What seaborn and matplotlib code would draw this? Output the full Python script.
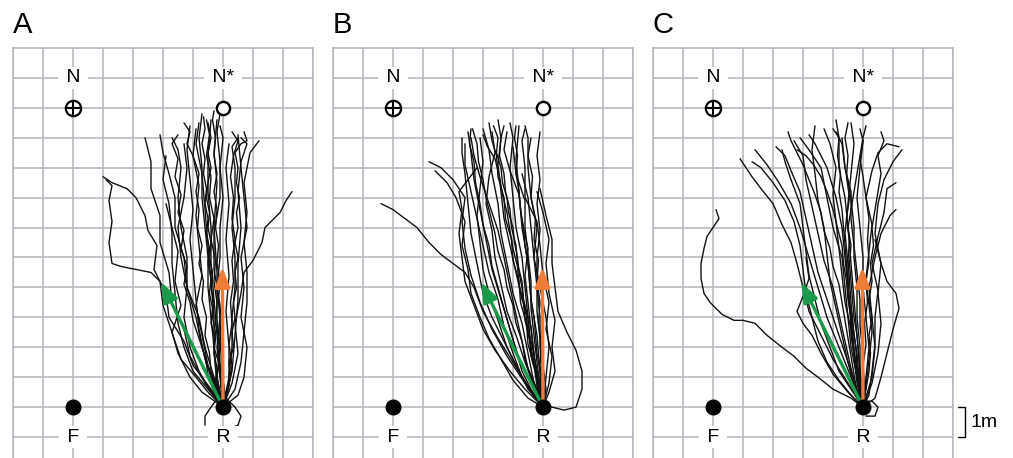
import matplotlib
matplotlib.use("Agg")
import matplotlib.pyplot as plt
import seaborn as sns
import pandas as pd

# ---------------- data (grid units, 1 cell = 1 m) ----------------
panel_labels = ["A", "B", "C"]

label_text = ["N", "N*", "F", "R"]
label_x = [2, 7, 2, 7]
label_y = [11, 11, -1, -1]

nest_xy = (2, 10)          # N (crossed circle)
fictive_nest_xy = (7, 10)  # N* (open circle)
feeder_xy = (2, 0)         # F
release_xy = (7, 0)        # R

green_tip = (4.94, 4.18)
orange_tip = (6.98, 4.68)

A_tracks = [
    [(7,0),(6.6,0.6),(6.0,1.4),(5.7,2.2),(5.2,3.0),(5.1,3.8),(4.7,4.6),(4.8,5.4),(4.5,5.9),(4.4,6.4),(4.1,7.0),(3.8,7.3),(3.3,7.5),(3.0,7.7)],
    [(7,0),(6.5,0.5),(6.1,1.0),(5.6,1.6),(5.3,2.5),(5.0,3.4),(4.9,4.2),(4.6,4.5),(4.1,4.6),(3.6,4.7),(3.3,4.8),(3.2,5.5),(3.3,6.2),(3.2,6.9),(3.3,7.4),(3.1,7.6)],
    [(7,0),(7.3,0.8),(7.5,1.8),(7.4,2.8),(7.6,3.8),(7.7,4.5),(8.0,4.9),(8.3,5.5),(8.4,6.0),(8.9,6.5),(9.1,6.9),(9.3,7.2)],
    [(7,0),(6.4,0.8),(5.9,1.7),(5.7,2.6),(5.3,3.5),(5.2,4.5),(4.9,5.5),(4.9,6.4),(4.6,7.3),(4.6,8.2),(4.4,9.0)],
    [(7,0),(6.7,1.0),(6.4,2.0),(6.2,3.0),(5.8,4.0),(5.7,5.0),(5.4,6.0),(5.4,7.0),(5.2,7.8),(5.0,8.5),(4.9,9.1)],
    [(7,0),(6.8,1.0),(6.7,2.0),(6.6,3.0),(6.5,4.0),(6.5,5.0),(6.4,6.0),(6.3,7.0),(6.3,8.0),(6.2,9.0),(6.3,9.8)],
    [(7,0),(6.9,1.2),(6.8,2.4),(6.7,3.6),(6.6,4.8),(6.6,6.0),(6.5,7.2),(6.5,8.4),(6.6,9.6)],
    [(7,0),(6.8,0.8),(6.7,1.8),(6.7,3.0),(6.6,4.2),(6.5,5.4),(6.4,6.6),(6.3,7.8),(6.1,8.8),(6.2,9.5)],
    [(7,0),(6.9,1.5),(6.8,3.0),(6.8,4.5),(6.7,6.0),(6.8,7.5),(6.7,8.5),(6.8,9.6)],
    [(7,0),(7.2,1.0),(7.3,2.0),(7.3,3.0),(7.4,4.0),(7.4,5.0),(7.3,6.0),(7.4,7.0),(7.4,8.0),(7.3,8.7),(7.5,9.0)],
    [(7,0),(7.3,1.2),(7.4,2.4),(7.5,3.6),(7.5,4.8),(7.6,6.0),(7.5,7.2),(7.6,8.2),(7.8,8.8),(7.6,9.0)],
    [(7,0),(7.2,0.8),(7.2,2.0),(7.1,3.2),(7.2,4.4),(7.1,5.6),(7.2,6.8),(7.1,8.0),(7.2,8.8)],
    [(7,0),(6.6,1.0),(6.3,2.0),(6.1,3.0),(5.8,4.0),(5.8,5.0),(5.6,6.0),(5.5,7.0),(5.6,8.0),(5.5,8.6),(5.3,9.0)],
    [(7,0),(6.7,0.8),(6.4,1.6),(6.2,2.6),(6.1,3.6),(6.0,4.6),(5.9,5.6),(6.0,6.6),(5.9,7.6),(5.8,8.6),(5.9,9.4)],
    [(7,0),(6.5,0.6),(6.0,1.2),(5.7,2.0),(5.5,2.8),(5.4,3.8),(5.3,4.8),(5.3,5.8),(5.2,6.8),(5.0,7.6),(5.1,8.4)],
    [(7,0),(6.9,1.0),(6.8,2.0),(6.9,3.0),(6.8,4.0),(6.9,5.0),(6.9,6.0),(7.0,7.0),(6.9,8.0),(7.0,9.0),(6.9,9.4)],
    [(7,0),(6.6,0.5),(6.2,1.2),(5.9,2.0),(5.7,3.0),(5.8,4.0),(5.6,5.0),(5.5,6.0),(5.7,7.0),(5.8,8.0),(5.7,8.8)],
    [(6.9,0.4),(6.6,0.0),(6.4,-0.3),(6.4,-0.6)],
    [(7.1,0.3),(7.4,0.0),(7.6,-0.3),(7.5,-0.6),(7.3,-0.7)],
    [(7,0),(7.4,0.6),(7.6,1.5),(7.7,2.5),(7.8,3.5),(7.8,4.5),(7.7,5.5),(7.8,6.5),(7.7,7.5),(7.9,8.5),(8.2,8.9)],
    [(7,0),(7.5,0.4),(7.7,1.0),(7.8,2.0),(7.6,3.0),(7.7,4.0),(7.6,5.0),(7.8,6.0),(7.7,7.0),(7.6,8.0),(7.5,9.1)],
    [(7,0),(7.0,1.0),(6.9,2.2),(6.9,3.4),(6.7,4.6),(6.7,5.8),(6.9,7.0),(6.9,8.2),(6.8,9.2),(6.9,9.8)],
    [(7,0),(6.8,0.6),(6.5,1.4),(6.3,2.4),(6.1,3.4),(6.3,4.4),(6.2,5.4),(6.1,6.4),(6.2,7.4),(6.0,8.4),(6.1,9.3)],
    [(7,0),(6.3,0.5),(5.9,1.0),(5.5,1.8),(5.3,2.5),(5.6,3.4),(5.4,4.2),(5.5,5.2),(5.3,6.0),(5.1,6.8)],
]

A_core = [
    [(7,0),(6.85,0.4),(6.75,0.9),(6.8,1.3),(6.7,1.8),(6.75,2.3),(6.6,2.8),(6.65,3.3),(6.55,3.8),(6.6,4.3),(6.5,4.8),(6.55,5.3),(6.45,5.8),(6.5,6.3),(6.4,6.8),(6.45,7.3),(6.35,7.8),(6.4,8.3),(6.3,8.8),(6.4,9.3),(6.35,9.7)],
    [(7,0),(6.9,0.5),(6.8,1.0),(6.85,1.5),(6.7,2.0),(6.75,2.5),(6.65,3.0),(6.7,3.5),(6.6,4.0),(6.65,4.5),(6.55,5.0),(6.6,5.5),(6.5,6.0),(6.55,6.5),(6.45,7.0),(6.5,7.5),(6.6,8.0),(6.5,8.5),(6.6,9.0),(6.5,9.5)],
    [(7,0),(7.1,0.5),(7.25,1.0),(7.2,1.5),(7.35,2.0),(7.3,2.5),(7.4,3.0),(7.35,3.5),(7.45,4.0),(7.4,4.5),(7.5,5.0),(7.4,5.5),(7.5,6.0),(7.45,6.5),(7.55,7.0),(7.45,7.5),(7.5,8.0),(7.4,8.5),(7.6,8.8),(7.8,8.9),(7.7,9.2)],
    [(7,0),(6.8,0.6),(6.6,1.2),(6.55,1.8),(6.4,2.4),(6.45,3.0),(6.3,3.6),(6.35,4.2),(6.2,4.8),(6.3,5.4),(6.15,6.0),(6.2,6.6),(6.1,7.2),(6.2,7.8),(6.0,8.4),(5.8,8.8),(5.9,9.2),(5.7,9.5)],
    [(7,0),(7.05,0.6),(6.95,1.2),(7.0,1.8),(6.9,2.4),(6.95,3.0),(6.85,3.6),(6.9,4.2),(6.8,4.8),(6.85,5.4),(6.75,6.0),(6.8,6.6),(6.7,7.2),(6.8,7.8),(6.7,8.4),(6.75,9.0),(6.65,9.6),(6.7,9.9)],
    [(7,0),(7.2,0.7),(7.3,1.4),(7.2,2.1),(7.3,2.8),(7.25,3.5),(7.35,4.2),(7.3,4.9),(7.4,5.6),(7.3,6.3),(7.35,7.0),(7.25,7.7),(7.35,8.4),(7.5,8.9),(7.3,9.2)],
    [(7,0),(6.7,0.5),(6.5,1.1),(6.4,1.7),(6.2,2.3),(6.0,2.9),(5.9,3.5),(5.7,4.1),(5.8,4.7),(5.6,5.3),(5.7,5.9),(5.5,6.5),(5.6,7.1),(5.4,7.7),(5.5,8.3),(5.3,8.8),(5.5,9.1)],
    [(7,0),(6.95,0.7),(6.85,1.4),(6.9,2.1),(6.75,2.8),(6.8,3.5),(6.7,4.2),(6.75,4.9),(6.6,5.6),(6.7,6.3),(6.55,7.0),(6.6,7.7),(6.45,8.4),(6.55,9.1),(6.45,9.6)],
]

B_tracks = [
    [(7,0),(6.5,0.7),(6.0,1.5),(5.5,2.3),(5.0,3.2),(4.7,4.0),(4.4,4.5),(4.0,4.8),(3.6,5.1),(3.2,5.5),(2.8,6.0),(2.4,6.3),(2.0,6.6),(1.6,6.8)],
    [(7,0),(6.4,0.8),(5.8,1.7),(5.3,2.6),(4.9,3.5),(4.6,4.4),(4.4,5.3),(4.3,6.2),(4.4,7.0),(4.0,7.6),(3.6,8.0),(3.2,8.2)],
    [(7,0),(7.3,0.0),(7.7,-0.1),(8.1,0.0),(8.3,0.6),(8.3,1.2),(8.1,1.9),(7.8,2.5),(7.5,3.2),(7.4,4.0),(7.3,4.8),(7.3,5.6),(7.1,6.4),(6.9,7.3)],
    [(7,0),(7.2,0.8),(7.3,1.7),(7.1,2.6),(7.2,3.5),(7.0,4.4),(6.9,5.4),(6.8,6.2),(6.4,7.0),(6.4,8.0),(6.3,8.9),(6.4,9.3)],
    [(7,0),(6.8,1.0),(6.6,2.0),(6.5,3.0),(6.4,4.0),(6.3,5.0),(6.1,6.0),(6.0,7.0),(5.9,8.0),(6.0,9.0),(5.9,9.5)],
    [(7,0),(6.7,0.8),(6.5,1.8),(6.3,2.8),(6.0,3.8),(5.8,4.8),(5.6,5.8),(5.5,6.8),(5.3,7.8),(5.2,8.6),(5.0,9.3)],
    [(7,0),(6.6,0.8),(6.2,1.6),(5.9,2.6),(5.6,3.6),(5.3,4.6),(5.1,5.6),(4.9,6.6),(4.7,7.6),(4.6,8.5),(4.5,9.2)],
    [(7,0),(6.5,0.6),(6.1,1.4),(5.7,2.2),(5.3,3.0),(5.0,3.8),(4.8,4.8),(4.6,5.8),(4.5,6.8),(4.4,7.8),(4.3,8.5),(4.3,9.0)],
    [(7,0),(6.9,1.2),(6.8,2.4),(6.6,3.6),(6.5,4.8),(6.3,6.0),(6.2,7.2),(6.1,8.3),(6.2,9.4)],
    [(7,0),(6.8,0.9),(6.7,1.8),(6.6,2.7),(6.3,3.6),(6.1,4.5),(5.9,5.4),(5.7,6.3),(5.6,7.2),(5.5,8.1),(5.6,9.0),(5.5,9.6)],
    [(7,0),(6.6,0.5),(6.2,1.2),(5.8,2.0),(5.5,2.9),(5.2,3.8),(5.0,4.6),(4.9,5.5),(4.8,6.4),(4.9,7.3),(5.0,8.2),(4.9,9.0)],
    [(7,0),(7.0,1.0),(6.9,2.0),(6.9,3.0),(6.8,4.0),(6.7,5.0),(6.6,6.0),(6.5,7.0),(6.3,7.8)],
    [(7,0),(7.1,1.0),(7.2,2.0),(7.1,3.0),(6.9,4.0),(6.7,5.0),(6.8,6.0),(6.6,7.0),(6.5,8.0),(6.5,9.0),(6.4,9.4)],
    [(7,0),(6.4,0.6),(5.9,1.2),(5.4,1.9),(5.0,2.6),(4.7,3.4),(4.4,4.2),(4.3,5.0),(4.2,5.8),(4.3,6.6),(4.2,7.2),(4.5,7.6),(4.8,8.0)],
    [(7,0),(6.7,0.7),(6.4,1.5),(6.1,2.4),(5.8,3.2),(5.6,4.1),(5.4,5.0),(5.3,5.9),(5.1,6.8),(5.2,7.7),(5.4,8.5),(5.3,9.2)],
    [(7,0),(6.8,0.6),(6.5,1.3),(6.3,2.2),(6.1,3.1),(5.9,4.0),(5.7,5.0),(5.5,5.9),(5.2,6.8),(4.9,7.7),(4.7,8.4),(4.6,9.0)],
    [(7,0),(6.9,0.8),(6.7,1.7),(6.6,2.6),(6.5,3.5),(6.4,4.4),(6.5,5.3),(6.3,6.2),(6.2,7.1),(5.9,7.9),(5.7,8.6),(5.8,9.2)],
    [(7,0),(7.2,0.5),(7.4,1.2),(7.3,2.0),(7.4,2.9),(7.2,3.8),(7.1,4.8),(7.2,5.6),(7.0,6.5),(6.8,7.2)],
    [(7,0),(6.5,0.3),(6.0,0.9),(5.6,1.6),(5.2,2.3),(4.9,3.0),(4.6,3.8),(4.5,4.6),(4.3,5.4),(4.4,6.2),(4.1,7.0),(3.8,7.5),(3.4,7.9)],
    [(7,0),(6.9,0.7),(6.8,1.5),(6.7,2.4),(6.6,3.3),(6.6,4.2),(6.5,5.1),(6.4,6.0),(6.4,6.9),(6.1,7.8),(6.0,8.7)],
    [(7,0),(6.7,0.4),(6.3,1.0),(6.0,1.8),(5.7,2.7),(5.5,3.6),(5.2,4.5),(5.0,5.4),(4.8,6.3),(4.6,7.2),(4.4,8.1),(4.4,8.8)],
    [(7,0),(7.1,0.6),(7.0,1.4),(6.9,2.3),(6.8,3.2),(6.8,4.1),(6.8,5.0),(6.9,5.9),(6.8,6.8),(6.9,7.6),(6.8,8.4),(6.9,9.2)],
]

B_core = [
    [(7,0),(6.85,0.5),(6.8,1.0),(6.65,1.5),(6.6,2.0),(6.5,2.5),(6.45,3.0),(6.35,3.5),(6.3,4.0),(6.2,4.5),(6.15,5.0),(6.05,5.5),(6.0,6.0),(5.85,6.5),(5.8,7.0),(5.65,7.5),(5.6,8.0),(5.45,8.5),(5.5,9.0),(5.35,9.4)],
    [(7,0),(6.9,0.6),(6.75,1.2),(6.7,1.8),(6.55,2.4),(6.5,3.0),(6.35,3.6),(6.3,4.2),(6.15,4.8),(6.1,5.4),(5.95,6.0),(5.9,6.6),(5.75,7.2),(5.7,7.8),(5.55,8.4),(5.6,9.0),(5.7,9.4)],
    [(7,0),(6.95,0.6),(6.9,1.2),(6.8,1.8),(6.75,2.4),(6.7,3.0),(6.6,3.6),(6.55,4.2),(6.5,4.8),(6.4,5.4),(6.35,6.0),(6.25,6.6),(6.2,7.2),(6.1,7.8),(6.15,8.4),(6.05,9.0),(6.1,9.4)],
    [(7,0),(6.75,0.5),(6.6,1.0),(6.4,1.6),(6.3,2.2),(6.1,2.8),(6.0,3.4),(5.8,4.0),(5.7,4.6),(5.5,5.2),(5.4,5.8),(5.25,6.4),(5.1,7.0),(5.0,7.6),(4.85,8.2),(4.8,8.8),(4.65,9.3)],
    [(7,0),(6.8,0.7),(6.7,1.4),(6.5,2.1),(6.45,2.8),(6.25,3.5),(6.2,4.2),(6.0,4.9),(5.95,5.6),(5.75,6.3),(5.7,7.0),(5.5,7.7),(5.45,8.4),(5.3,8.9),(5.2,9.5)],
    [(7,0),(7.0,0.7),(6.9,1.4),(6.95,2.1),(6.85,2.8),(6.9,3.5),(6.8,4.2),(6.85,4.9),(6.7,5.6),(6.75,6.3),(6.6,7.0),(6.65,7.7),(6.5,8.4),(6.6,9.0)],
    [(7,0),(6.6,0.6),(6.3,1.2),(6.1,1.9),(5.9,2.6),(5.7,3.3),(5.5,4.0),(5.3,4.7),(5.2,5.4),(5.0,6.1),(4.9,6.8),(4.75,7.5),(4.7,8.2),(4.55,8.8),(4.6,9.3)],
    [(7,0),(6.9,0.5),(6.8,1.1),(6.6,1.7),(6.55,2.3),(6.4,2.9),(6.35,3.5),(6.2,4.1),(6.15,4.7),(6.0,5.3),(5.9,5.9),(5.8,6.5),(5.65,7.1),(5.55,7.7),(5.4,8.3),(5.15,8.7),(5.0,9.1)],
]

C_tracks = [
    [(7,0),(6.6,0.3),(6.0,0.6),(5.5,1.0),(5.1,1.3),(4.7,1.7),(4.3,2.0),(3.8,2.4),(3.4,2.8),(3.0,2.9),(2.7,2.9),(2.3,3.1),(1.9,3.5),(1.7,3.8),(1.6,4.3),(1.6,4.8),(1.7,5.3),(1.8,5.7),(2.0,6.0),(2.2,6.3),(2.1,6.6)],
    [(7,0),(6.5,0.8),(6.0,1.6),(5.6,2.4),(5.2,3.2),(5.0,4.0),(4.8,4.8),(4.6,5.5),(4.3,6.1),(4.0,6.8),(3.6,7.3),(3.3,7.7),(3.1,8.0),(2.9,8.3)],
    [(7,0),(6.6,1.0),(6.2,2.0),(5.8,3.0),(5.5,4.0),(5.2,5.0),(4.9,6.0),(4.6,6.8),(4.2,7.5),(3.8,8.1),(3.4,8.6)],
    [(7,0),(6.7,0.9),(6.4,1.8),(6.1,2.7),(5.8,3.6),(5.5,4.5),(5.3,5.4),(5.1,6.3),(4.9,7.2),(4.6,7.9),(4.4,8.4),(4.1,8.7)],
    [(7,0),(6.8,1.0),(6.6,2.0),(6.5,3.0),(6.4,4.0),(6.3,5.0),(6.0,6.0),(5.8,7.0),(5.6,8.0),(5.2,8.6),(4.9,9.0)],
    [(7,0),(6.9,1.2),(6.8,2.4),(6.7,3.6),(6.6,4.8),(6.5,6.0),(6.4,7.0),(6.2,8.0),(6.2,9.0),(6.1,9.6)],
    [(7,0),(6.9,0.8),(6.7,1.8),(6.6,2.8),(6.5,3.8),(6.5,4.8),(6.4,5.8),(6.5,6.8),(6.6,7.8),(6.7,8.8),(6.6,9.5)],
    [(7,0),(7.1,1.0),(7.2,2.0),(7.1,3.0),(7.0,4.0),(7.0,5.0),(6.9,6.0),(6.8,7.0),(6.9,8.0),(7.0,8.9),(6.9,9.3)],
    [(7,0),(7.3,0.8),(7.5,1.8),(7.6,2.8),(7.5,3.8),(7.6,4.8),(7.4,5.8),(7.5,6.8),(7.7,7.6),(8.0,8.2),(8.3,8.6)],
    [(7,0),(7.4,0.3),(7.6,1.0),(7.8,1.8),(8.0,2.6),(8.2,3.3),(8.1,3.8),(7.8,4.2),(7.6,4.8),(7.4,5.6)],
    [(7,0),(7.3,1.0),(7.4,2.0),(7.3,3.0),(7.2,4.0),(7.4,5.0),(7.6,5.8),(7.9,6.4),(8.1,6.6)],
    [(7,0),(6.6,0.6),(6.2,1.2),(5.9,2.0),(5.6,2.8),(5.4,3.6),(5.2,4.4),(5.1,5.2),(5.0,6.0),(4.9,6.8),(4.6,7.6),(4.4,8.2),(4.3,8.6)],
    [(7,0),(6.7,0.7),(6.5,1.5),(6.3,2.4),(6.1,3.3),(5.9,4.2),(5.8,5.1),(5.7,6.0),(5.5,6.9),(5.4,7.8),(5.3,8.6),(5.4,9.4)],
    [(7,0),(6.8,0.8),(6.7,1.7),(6.6,2.6),(6.4,3.5),(6.3,4.4),(6.2,5.3),(6.1,6.2),(6.0,7.1),(6.1,8.0),(5.9,8.8),(5.7,9.3)],
    [(7,0),(6.9,1.0),(6.9,2.0),(6.8,3.0),(6.8,4.0),(6.7,5.0),(6.7,6.0),(6.6,7.0),(6.4,8.0),(6.3,9.0)],
    [(7,0),(7.1,0.7),(7.2,1.6),(7.3,2.5),(7.2,3.4),(7.1,4.3),(7.2,5.2),(7.3,6.1),(7.1,7.0),(7.3,7.9),(7.5,8.5),(7.8,8.8),(8.2,8.7)],
    [(7,0),(6.6,0.4),(6.2,0.9),(5.8,1.5),(5.5,2.2),(5.3,3.0),(5.1,3.8),(5.0,4.6),(4.9,5.4),(4.7,6.2),(4.4,6.9),(4.0,7.5),(3.6,8.0),(3.3,8.2)],
    [(7,0),(6.5,0.5),(6.0,1.1),(5.6,1.8),(5.3,2.4),(5.0,2.8),(4.8,3.2),(5.0,3.7),(5.2,4.3),(5.1,5.0)],
    [(7,0),(6.8,0.5),(6.6,1.3),(6.4,2.2),(6.2,3.1),(6.0,4.0),(5.7,4.9),(5.5,5.8),(5.3,6.7),(5.1,7.6),(5.0,8.4),(4.7,8.9)],
    [(7,0),(7.0,0.9),(7.0,1.8),(6.9,2.7),(6.9,3.6),(6.8,4.5),(6.7,5.4),(6.6,6.3),(6.6,7.2),(6.4,8.0),(6.3,8.8),(6.1,9.2)],
    [(7,0),(7.2,0.4),(7.3,1.2),(7.4,2.1),(7.4,3.0),(7.5,3.9),(7.3,4.8),(7.5,5.7),(7.7,6.5),(7.8,7.3),(8.1,7.5)],
    [(7.0,0.2),(7.3,0.2),(7.5,0.0),(7.4,-0.3),(7.1,-0.3)],
]

C_core = [
    [(7,0),(6.9,0.5),(6.85,1.0),(6.75,1.5),(6.7,2.0),(6.65,2.5),(6.6,3.0),(6.55,3.5),(6.5,4.0),(6.45,4.5),(6.4,5.0),(6.35,5.5),(6.3,6.0),(6.2,6.5),(6.1,7.0),(5.95,7.5),(5.8,8.0),(5.6,8.4),(5.4,8.8),(5.2,9.1)],
    [(7,0),(6.95,0.6),(6.85,1.2),(6.8,1.8),(6.7,2.4),(6.65,3.0),(6.55,3.6),(6.5,4.2),(6.45,4.8),(6.4,5.4),(6.35,6.0),(6.3,6.6),(6.2,7.2),(6.25,7.8),(6.15,8.4),(6.2,9.0),(6.0,9.3)],
    [(7,0),(7.0,0.6),(6.9,1.2),(6.85,1.8),(6.8,2.4),(6.7,3.0),(6.65,3.6),(6.6,4.2),(6.55,4.8),(6.6,5.4),(6.5,6.0),(6.6,6.6),(6.7,7.2),(6.8,7.8),(6.9,8.4),(7.0,9.0),(7.1,9.4)],
    [(7,0),(6.8,0.5),(6.7,1.1),(6.6,1.7),(6.5,2.3),(6.4,2.9),(6.3,3.5),(6.2,4.1),(6.0,4.7),(5.9,5.3),(5.7,5.9),(5.6,6.5),(5.4,7.1),(5.2,7.6),(5.0,8.1),(4.8,8.5),(4.6,8.9),(4.5,9.2)],
    [(7,0),(7.1,0.6),(7.2,1.2),(7.25,1.8),(7.2,2.4),(7.3,3.0),(7.2,3.6),(7.3,4.2),(7.25,4.8),(7.35,5.4),(7.3,6.0),(7.4,6.6),(7.5,7.2),(7.6,7.8),(7.5,8.4),(7.7,8.9),(7.6,9.2)],
    [(7,0),(6.85,0.6),(6.8,1.2),(6.7,1.8),(6.6,2.4),(6.6,3.0),(6.5,3.6),(6.45,4.2),(6.35,4.8),(6.3,5.4),(6.15,6.0),(6.0,6.6),(5.8,7.2),(5.6,7.7),(5.35,8.1),(5.1,8.4),(4.8,8.6)],
    [(7,0),(6.9,0.7),(6.8,1.4),(6.75,2.1),(6.65,2.8),(6.6,3.5),(6.55,4.2),(6.5,4.9),(6.55,5.6),(6.45,6.3),(6.55,7.0),(6.45,7.7),(6.5,8.4),(6.4,9.0),(6.5,9.5)],
    [(7,0),(7.05,0.7),(7.0,1.4),(7.1,2.1),(7.05,2.8),(7.15,3.5),(7.1,4.2),(7.2,4.9),(7.15,5.6),(7.2,6.3),(7.1,7.0),(7.0,7.7),(6.9,8.3),(7.0,8.9)],
]

panel_tracks = [A_tracks + A_core, B_tracks + B_core, C_tracks + C_core]

# ---------------- style ----------------
sns.set_style("white")
plt.rcParams["font.family"] = ["Liberation Sans", "DejaVu Sans"]

GRID = "#b4b4bc"
GREEN = "#1a9a4a"
ORANGE = "#f07c3a"

W, H = 1013, 458
fig = plt.figure(figsize=(W / 100, H / 100), dpi=100)

arrow_style = "-|>,head_length=0.85,head_width=0.32"

for i, (lab, tracks) in enumerate(zip(panel_labels, panel_tracks)):
    left_px = 13 + 320 * i
    ax = fig.add_axes([left_px / W, 0, 300 / W, 410 / H])
    ax.set_xlim(0, 10)
    ax.set_ylim(-1.7, 12)
    ax.set_xticks(range(0, 11))
    ax.set_yticks(range(-1, 12))
    ax.tick_params(length=0, labelbottom=False, labelleft=False)
    ax.grid(True, color=GRID, lw=1.1, zorder=0)
    ax.set_axisbelow(True)
    for s in ["top", "left", "right"]:
        ax.spines[s].set_color(GRID)
        ax.spines[s].set_linewidth(1.1)
    ax.spines["bottom"].set_visible(False)

    rows = []
    for k, tr in enumerate(tracks):
        for j, (x, y) in enumerate(tr):
            rows.append({"track": k, "step": j, "x": x, "y": y})
    df = pd.DataFrame(rows)
    sns.lineplot(data=df, x="x", y="y", units="track", estimator=None,
                 sort=False, color="#111111", lw=1.0, ax=ax, zorder=3)
    ax.set_xlabel("")
    ax.set_ylabel("")

    # homing vectors
    for tip, col in [(green_tip, GREEN), (orange_tip, ORANGE)]:
        ax.annotate("", xy=tip, xytext=release_xy,
                    arrowprops=dict(arrowstyle=arrow_style, color=col, lw=2.4,
                                    shrinkA=0, shrinkB=0, mutation_scale=14),
                    zorder=5)

    # landmarks
    ax.plot(*nest_xy, marker="o", ms=11, mfc="white", mec="black", mew=1.6, zorder=6)
    ax.plot(*nest_xy, marker="+", ms=11, mec="black", mew=1.5, zorder=7)
    ax.plot(*fictive_nest_xy, marker="o", ms=9.5, mfc="white", mec="black", mew=1.7, zorder=6)
    ax.plot(*feeder_xy, marker="o", ms=10.5, color="black", zorder=6)
    ax.plot(*release_xy, marker="o", ms=10.5, color="black", zorder=6)

    for t, lx, ly in zip(label_text, label_x, label_y):
        ax.text(lx, ly, " " + t + " ", ha="center", va="center", fontsize=14,
                color="black", zorder=8,
                bbox=dict(boxstyle="square,pad=0.12", fc="white", ec="none"))

    fig.text(left_px / W, 1 - 33 / H, lab, fontsize=21, color="black",
             ha="left", va="baseline")

    if i == 2:
        # 1 m scale bar
        ax.plot([10.17, 10.4, 10.4, 10.17], [0, 0, -1, -1], color="black",
                lw=1.0, clip_on=False, zorder=5)
        ax.text(10.6, -0.5, "1m", fontsize=14, color="black", ha="left", va="center")

fig.savefig("out.png", dpi=100)
